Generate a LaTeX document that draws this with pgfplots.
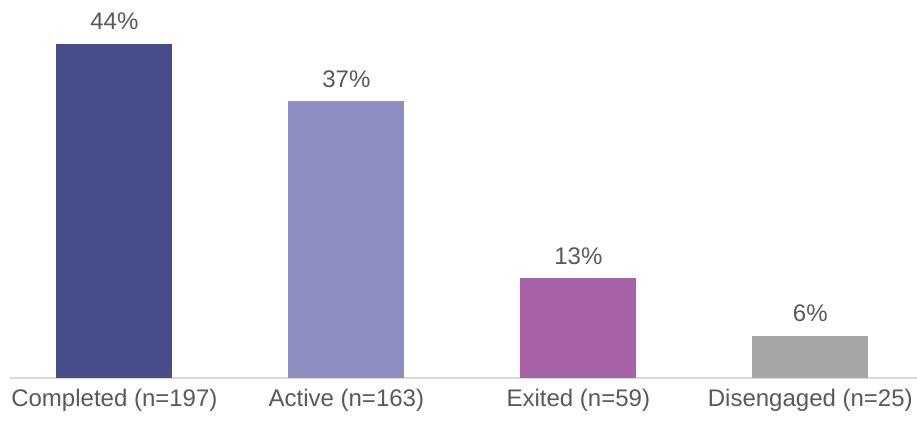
\documentclass[border=0pt]{standalone}
\usepackage{pgfplots}
\pgfplotsset{compat=1.18}
\usepackage{fontspec}
\setmainfont{Liberation Sans}
\definecolor{cA}{HTML}{474D89}
\definecolor{cB}{HTML}{8E8EC3}
\definecolor{cC}{HTML}{A862A7}
\definecolor{cD}{HTML}{A6A6A6}
\definecolor{txt}{HTML}{595959}
\definecolor{lineC}{HTML}{D9D9D9}
\begin{document}
\begin{tikzpicture}[x=1pt,y=1pt]
\useasboundingbox (0,0) rectangle (917,421);
\begin{axis}[
  at={(10pt,43pt)}, anchor=south west,
  scale only axis, width=907pt, height=376.9pt,
  ymin=0, ymax=50, xmin=-0.45, xmax=3.46,
  axis y line=none, axis x line*=bottom,
  x axis line style={draw=lineC, line width=2pt, -},
  xtick={0,1,2,3},
  xticklabels={Completed (n=197), Active (n=163), Exited (n=59), Disengaged (n=25)},
  major tick length=0pt,
  /pgf/number format/assume math mode=true,
  xticklabel style={font=\fontsize{24}{28}\selectfont, text=txt, yshift=-8pt},
  ybar, bar width=116pt, bar shift=0pt,
  nodes near coords={\pgfmathprintnumber[fixed,precision=0,assume math mode=true]{\pgfplotspointmeta}\%},
  nodes near coords style={font=\fontsize{24}{28}\selectfont, text=txt, yshift=10pt},
  clip=false,
]
\addplot[draw=none, fill=cA] coordinates {(0,44.37)};
\addplot[draw=none, fill=cB] coordinates {(1,36.71)};
\addplot[draw=none, fill=cC] coordinates {(2,13.29)};
\addplot[draw=none, fill=cD] coordinates {(3,5.63)};
\end{axis}
\end{tikzpicture}
\end{document}
